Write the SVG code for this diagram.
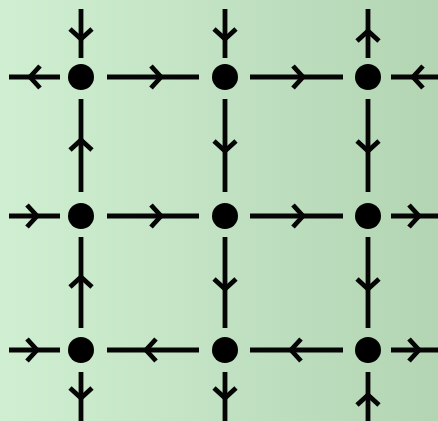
<svg xmlns="http://www.w3.org/2000/svg" xmlns:xlink="http://www.w3.org/1999/xlink" width="438" height="421" viewBox="0 0 438 421">
  <defs>
    <linearGradient id="bg" x1="0" y1="0" x2="1" y2="0">
      <stop offset="0" stop-color="#d0efd2"/>
      <stop offset="1" stop-color="#b3d5b3"/>
    </linearGradient>
    <path id="chev" d="M-10,-11 L0,0 L-10,11"/>
  </defs>
  <style>
    .ln { stroke: #050505; stroke-width: 4.8; fill: none; stroke-linecap: butt; }
    .ar { stroke: #050505; stroke-width: 4.8; fill: none; stroke-linecap: butt; stroke-linejoin: miter; }
    .dot { fill: #000; }
  </style>
  <rect x="0" y="0" width="438" height="421" fill="url(#bg)"/>
  <g id="connectors">
    <path class="ln" d="M9,77H60M107,77H199M250,77H343M391,77H438"/>
    <path class="ln" d="M9,216H60M107,216H199M250,216H343M391,216H438"/>
    <path class="ln" d="M9,350H60M107,350H199M250,350H343M391,350H438"/>
    <path class="ln" d="M81,9V58M81,99V192M81,237V328M81,372V421"/>
    <path class="ln" d="M225,9V58M225,99V192M225,237V328M225,372V421"/>
    <path class="ln" d="M368,9V58M368,99V192M368,237V328M368,372V421"/>
    <use href="#chev" class="ar" transform="translate(30,77) rotate(180)"/>
    <use href="#chev" class="ar" transform="translate(161,77)"/>
    <use href="#chev" class="ar" transform="translate(303,77)"/>
    <use href="#chev" class="ar" transform="translate(413,77) rotate(180)"/>
    <use href="#chev" class="ar" transform="translate(37,216)"/>
    <use href="#chev" class="ar" transform="translate(161,216)"/>
    <use href="#chev" class="ar" transform="translate(303,216)"/>
    <use href="#chev" class="ar" transform="translate(419,216)"/>
    <use href="#chev" class="ar" transform="translate(37,350)"/>
    <use href="#chev" class="ar" transform="translate(146,350) rotate(180)"/>
    <use href="#chev" class="ar" transform="translate(291,350) rotate(180)"/>
    <use href="#chev" class="ar" transform="translate(419,350)"/>
    <use href="#chev" class="ar" transform="translate(81,39) rotate(90)"/>
    <use href="#chev" class="ar" transform="translate(81,140) rotate(-90)"/>
    <use href="#chev" class="ar" transform="translate(81,277) rotate(-90)"/>
    <use href="#chev" class="ar" transform="translate(81,398) rotate(90)"/>
    <use href="#chev" class="ar" transform="translate(225,39) rotate(90)"/>
    <use href="#chev" class="ar" transform="translate(225,151) rotate(90)"/>
    <use href="#chev" class="ar" transform="translate(225,289) rotate(90)"/>
    <use href="#chev" class="ar" transform="translate(225,398) rotate(90)"/>
    <use href="#chev" class="ar" transform="translate(368,31) rotate(-90)"/>
    <use href="#chev" class="ar" transform="translate(368,151) rotate(90)"/>
    <use href="#chev" class="ar" transform="translate(368,289) rotate(90)"/>
    <use href="#chev" class="ar" transform="translate(368,395) rotate(-90)"/>
  </g>
  <g id="n11"><circle class="dot" cx="81" cy="77" r="13"/></g>
  <g id="n12"><circle class="dot" cx="225" cy="77" r="13"/></g>
  <g id="n13"><circle class="dot" cx="368" cy="77" r="13"/></g>
  <g id="n21"><circle class="dot" cx="81" cy="216" r="13"/></g>
  <g id="n22"><circle class="dot" cx="225" cy="216" r="13"/></g>
  <g id="n23"><circle class="dot" cx="368" cy="216" r="13"/></g>
  <g id="n31"><circle class="dot" cx="81" cy="350" r="13"/></g>
  <g id="n32"><circle class="dot" cx="225" cy="350" r="13"/></g>
  <g id="n33"><circle class="dot" cx="368" cy="350" r="13"/></g>
</svg>
